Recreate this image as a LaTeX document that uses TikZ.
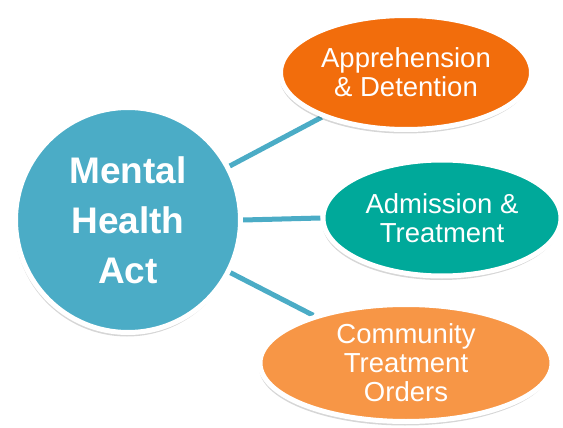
\documentclass[tikz,border=0pt]{standalone}
\usepackage{fontspec}
\setmainfont{Liberation Sans}
\usetikzlibrary{shapes.geometric,shadows,backgrounds}
\definecolor{aqua}{HTML}{4BACC6}
\definecolor{orangeA}{HTML}{F26D0C}
\definecolor{tealB}{HTML}{00A99A}
\definecolor{orangeC}{HTML}{F79646}
\tikzset{
  bubble/.style={ellipse, draw=white, line width=5pt, inner sep=0pt, text=white, align=center,
    font=\fontsize{27.5}{29}\selectfont,
    drop shadow={shadow xshift=-1pt, shadow yshift=-4pt, fill=black, opacity=0.16}},
  hub/.style={circle, draw=white, line width=5pt, inner sep=0pt, fill=aqua, text=white, align=center,
    font=\bfseries\fontsize{37}{50}\selectfont,
    drop shadow={shadow xshift=-1pt, shadow yshift=-4pt, fill=black, opacity=0.16}},
  link/.style={draw=aqua, line width=5pt}
}
\begin{document}
\begin{tikzpicture}[x=1pt,y=-1pt]
\useasboundingbox (0,0) rectangle (563,428);
\node[hub, minimum size=225pt] (c) at (128,220) {Mental\\Health\\Act};
\node[bubble, fill=orangeA, minimum width=251pt, minimum height=114pt] (e1) at (406,72.5) {Apprehension\\\& Detention};
\node[bubble, fill=tealB, minimum width=238pt, minimum height=116pt] (e2) at (442,218) {Admission \&\\Treatment};
\node[bubble, fill=orangeC, minimum width=292pt, minimum height=117pt] (e3) at (406,363) {Community\\Treatment\\Orders};
\begin{scope}[on background layer]
\draw[link] (c) -- (e1);
\draw[link] (c.east) -- (e2.west);
\draw[link] (c) -- (e3);
\end{scope}
\end{tikzpicture}
\end{document}
